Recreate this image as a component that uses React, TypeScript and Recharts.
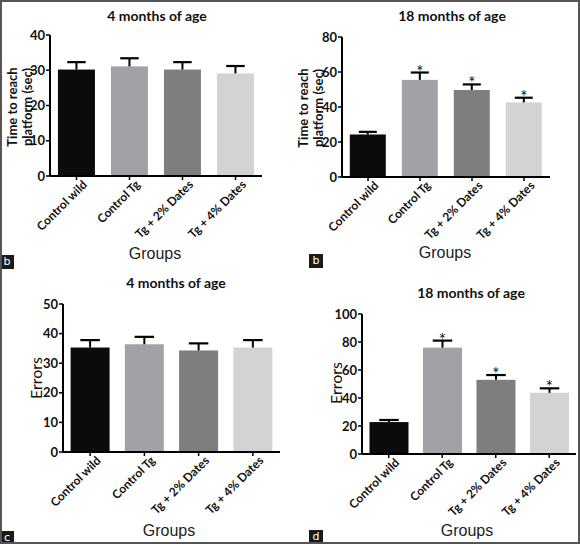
import React from "react";
import { BarChart, Bar, XAxis, YAxis, Cell } from "recharts";

const groups = ["Control wild", "Control Tg", "Tg + 2% Dates", "Tg + 4% Dates"];
const barColors = ["#0b0b0b", "#a2a2a6", "#7e7e7e", "#d3d3d3"];

// time to reach platform (sec)
const time4Mean = [30.2, 31.1, 30.2, 29.1];
const time4Sem = [2.1, 2.3, 2.1, 2.1];
const time18Mean = [24.3, 55.5, 49.7, 42.6];
const time18Sem = [1.5, 4.2, 3.2, 2.7];

// errors
const err4Mean = [35.3, 36.4, 34.3, 35.3];
const err4Sem = [2.5, 2.5, 2.4, 2.5];
const err18Mean = [22.8, 76, 53, 43.7];
const err18Sem = [1.5, 5, 3.4, 3.2];

const sig4 = [false, false, false, false];
const sig18 = [false, true, true, true];

const ticks40 = [0, 10, 20, 30, 40];
const ticks80 = [0, 20, 40, 60, 80];
const ticks50 = [0, 10, 20, 30, 40, 50];
const ticks100 = [0, 20, 40, 60, 80, 100];

const rows = (mean: number[], sem: number[], sig: boolean[]) =>
  groups.map((name, i) => ({ name, mean: mean[i], sem: sem[i], sig: sig[i] }));

const W = 290;
const H = 272;
const tickFont = "Lato, 'DejaVu Sans', sans-serif";

function XTick(props: any) {
  const { x, y, payload } = props;
  return (
    <g transform={`translate(${x + 5},${y - 3})`}>
      <text
        transform="rotate(-45)"
        textAnchor="end"
        dy={9}
        fontSize={12}
        fontWeight={700}
        fontFamily={tickFont}
        fill="#111"
      >
        {payload.value}
      </text>
    </g>
  );
}

function ErrBarShape(props: any) {
  const { x, y, width, height, fill, payload } = props;
  const px = payload.mean ? (payload.sem * height) / payload.mean : 0;
  const cx = x + width / 2;
  const capY = y - px;
  const capW = width / 2;
  return (
    <g>
      <rect x={x} y={y} width={width} height={height} fill={fill} />
      <line x1={cx} y1={y} x2={cx} y2={capY} stroke="#000" strokeWidth={2} />
      <line x1={cx - capW / 2} y1={capY} x2={cx + capW / 2} y2={capY} stroke="#000" strokeWidth={2.2} />
      {payload.sig && (
        <text x={cx} y={capY + 5} textAnchor="middle" fontSize={17} fill="#111" fontFamily={tickFont}>
          *
        </text>
      )}
    </g>
  );
}

type PanelProps = {
  left: number;
  top: number;
  data: any[];
  ticks: number[];
  plot: { l: number; r: number; t: number; b: number };
  gap: string;
  title: string;
  titleAt: [number, number];
  ylabel: string[];
  ylabelAt: [number, number];
  ylabelBold: boolean;
  groupsAt: [number, number];
  letter: string;
  letterAt: [number, number];
};

function Panel(p: PanelProps) {
  const max = p.ticks[p.ticks.length - 1];
  const n = p.ylabel.length;
  return (
    <div style={{ position: "absolute", left: p.left, top: p.top, width: W, height: H }}>
      <BarChart
        width={W}
        height={H}
        data={p.data}
        margin={{ top: p.plot.t, right: W - p.plot.r, left: 0, bottom: 0 }}
        barCategoryGap={p.gap}
      >
        <XAxis
          dataKey="name"
          interval={0}
          height={H - p.plot.b}
          tick={<XTick />}
          tickSize={4}
          tickLine={{ stroke: "#000", strokeWidth: 1.5 }}
          axisLine={{ stroke: "#000", strokeWidth: 2 }}
        />
        <YAxis
          width={p.plot.l}
          domain={[0, max]}
          ticks={p.ticks}
          interval={0}
          tickSize={4}
          tickMargin={1}
          tickLine={{ stroke: "#000", strokeWidth: 1.5 }}
          axisLine={{ stroke: "#000", strokeWidth: 2 }}
          tick={{ fontSize: 13, fontWeight: 700, fill: "#111", fontFamily: tickFont }}
        />
        <Bar dataKey="mean" isAnimationActive={false} shape={<ErrBarShape />}>
          {p.data.map((_, i) => (
            <Cell key={`c-${i}`} fill={barColors[i]} />
          ))}
        </Bar>
      </BarChart>
      <div
        style={{
          position: "absolute",
          left: p.titleAt[0],
          top: p.titleAt[1],
          transform: "translate(-50%, -50%)",
          whiteSpace: "nowrap",
          fontFamily: tickFont,
          fontWeight: 700,
          fontSize: 14,
          color: "#111",
        }}
      >
        {p.title}
      </div>
      {p.ylabel.map((s, i) => (
        <div
          key={s}
          style={{
            position: "absolute",
            left: p.ylabelAt[0] + (i - (n - 1) / 2) * 15,
            top: p.ylabelAt[1],
            transform: "translate(-50%, -50%) rotate(-90deg)",
            whiteSpace: "nowrap",
            fontFamily: tickFont,
            fontWeight: p.ylabelBold ? 700 : 400,
            fontSize: p.ylabelBold ? 13 : 16,
            lineHeight: "16px",
            color: "#111",
          }}
        >
          {s}
        </div>
      ))}
      <div
        style={{
          position: "absolute",
          left: p.groupsAt[0],
          top: p.groupsAt[1],
          transform: "translate(-50%, -50%)",
          whiteSpace: "nowrap",
          fontFamily: "'Liberation Sans', Arial, sans-serif",
          fontSize: 16,
          color: "#222",
        }}
      >
        Groups
      </div>
      <div
        style={{
          position: "absolute",
          left: p.letterAt[0],
          top: p.letterAt[1],
          width: 14,
          height: 14,
          background: "#1a1a1a",
          color: "#fff",
          fontFamily: "'DejaVu Sans', sans-serif",
          fontSize: 11,
          lineHeight: "14px",
          textAlign: "center",
        }}
      >
        {p.letter}
      </div>
    </div>
  );
}

export default function App() {
  return (
    <div style={{ position: "absolute", left: 0, top: 0, width: 580, height: 544, background: "#fff" }}>
      <Panel
        left={0}
        top={0}
        data={rows(time4Mean, time4Sem, sig4)}
        ticks={ticks40}
        plot={{ l: 50, r: 262, t: 35, b: 176 }}
        gap="15%"
        title="4 months of age"
        titleAt={[157, 15]}
        ylabel={["Time to reach", "platform (sec)"]}
        ylabelAt={[19, 107]}
        ylabelBold
        groupsAt={[155, 254]}
        letter="b"
        letterAt={[0, 255]}
      />
      <Panel
        left={290}
        top={0}
        data={rows(time18Mean, time18Sem, sig18)}
        ticks={ticks80}
        plot={{ l: 52, r: 260, t: 37, b: 177 }}
        gap="15%"
        title="18 months of age"
        titleAt={[162, 15]}
        ylabel={["Time to reach", "platform (sec)"]}
        ylabelAt={[20, 108]}
        ylabelBold
        groupsAt={[155, 253]}
        letter="b"
        letterAt={[19, 254]}
      />
      <Panel
        left={0}
        top={272}
        data={rows(err4Mean, err4Sem, sig4)}
        ticks={ticks50}
        plot={{ l: 63, r: 280, t: 32, b: 180 }}
        gap="14%"
        title="4 months of age"
        titleAt={[176, 10]}
        ylabel={["Errors"]}
        ylabelAt={[36, 106]}
        ylabelBold={false}
        groupsAt={[169, 259]}
        letter="c"
        letterAt={[0, 259]}
      />
      <Panel
        left={290}
        top={272}
        data={rows(err18Mean, err18Sem, sig18)}
        ticks={ticks100}
        plot={{ l: 72, r: 286, t: 42, b: 182 }}
        gap="14%"
        title="18 months of age"
        titleAt={[181, 20]}
        ylabel={["Errors"]}
        ylabelAt={[46, 111]}
        ylabelBold={false}
        groupsAt={[177, 259]}
        letter="d"
        letterAt={[19, 258]}
      />
      <div
        style={{
          position: "absolute",
          left: 0,
          top: 0,
          width: 580,
          height: 544,
          boxSizing: "border-box",
          border: "2px solid #555",
          pointerEvents: "none",
        }}
      />
    </div>
  );
}
